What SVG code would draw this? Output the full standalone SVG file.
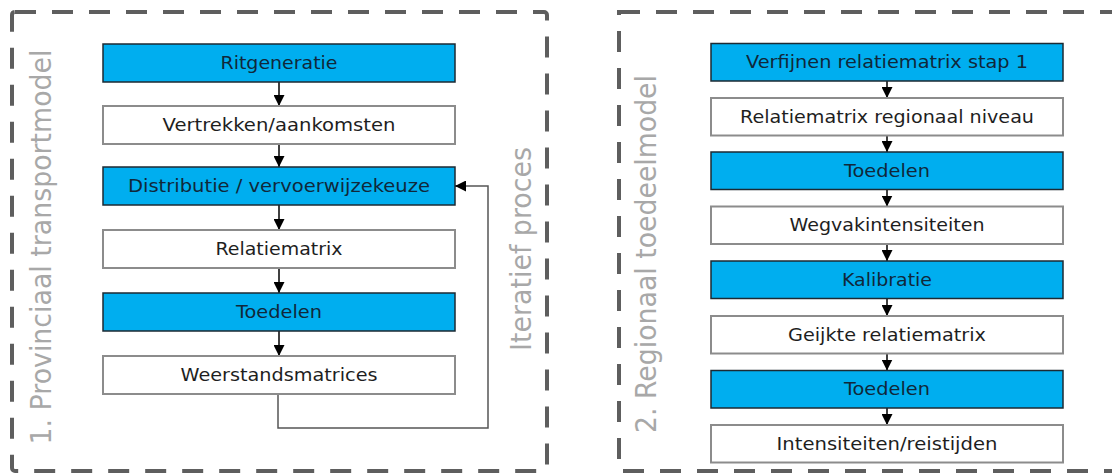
<svg xmlns="http://www.w3.org/2000/svg" width="1112" height="476" viewBox="0 0 1112 476">
<style>
.frame{fill:none;stroke:#5e5e5e;stroke-width:4;stroke-dasharray:21 16}
.blue{fill:#00aeef;stroke:#1c2a33;stroke-width:1.5}
.white{fill:#ffffff;stroke:#8c8c8c;stroke-width:2}
.t{font-family:"DejaVu Sans",Verdana,sans-serif;font-size:17px;text-anchor:middle}
.tb{fill:#10283a}
.tw{fill:#1e1e1e}
.side{font-family:"DejaVu Sans",Verdana,sans-serif;font-size:29px;fill:#a8a8a8;text-anchor:middle}
.conn{stroke:#000;stroke-width:1.5;fill:none}
.fb{stroke:#555;stroke-width:1.5;fill:none}
</style>
<defs>
<marker id="arr" markerUnits="userSpaceOnUse" markerWidth="11" markerHeight="11" refX="11" refY="5.5" orient="auto">
<path d="M0,0 L11,5.5 L0,11 z" fill="#000"/>
</marker>
</defs>
<rect width="1112" height="476" fill="#ffffff"/>
<g id="frame-provinciaal">
<rect class="frame" x="12" y="12" width="535" height="459" rx="3"/>
<text class="side" transform="translate(51,247) rotate(-90)" textLength="395" lengthAdjust="spacingAndGlyphs">1. Provinciaal transportmodel</text>
<text class="side" transform="translate(531,249) rotate(-90)" textLength="204" lengthAdjust="spacingAndGlyphs">Iteratief proces</text>
</g>
<g id="frame-regionaal">
<rect class="frame" x="619" y="12" width="560" height="459"/>
<text class="side" transform="translate(656,254) rotate(-90)" textLength="358" lengthAdjust="spacingAndGlyphs">2. Regionaal toedeelmodel</text>
</g>
<g id="connectors">
<line class="conn" x1="279" y1="82" x2="279" y2="106" marker-end="url(#arr)"/>
<line class="conn" x1="279" y1="144" x2="279" y2="167" marker-end="url(#arr)"/>
<line class="conn" x1="279" y1="205" x2="279" y2="230" marker-end="url(#arr)"/>
<line class="conn" x1="279" y1="268" x2="279" y2="293" marker-end="url(#arr)"/>
<line class="conn" x1="279" y1="331" x2="279" y2="356" marker-end="url(#arr)"/>
<path class="fb" d="M278,394 V428 H488 V186 H460"/>
<line class="conn" x1="462" y1="186" x2="455" y2="186" marker-end="url(#arr)"/>
<line class="conn" x1="887" y1="81" x2="887" y2="98" marker-end="url(#arr)"/>
<line class="conn" x1="887" y1="135.5" x2="887" y2="152" marker-end="url(#arr)"/>
<line class="conn" x1="887" y1="189.5" x2="887" y2="206.5" marker-end="url(#arr)"/>
<line class="conn" x1="887" y1="244" x2="887" y2="261" marker-end="url(#arr)"/>
<line class="conn" x1="887" y1="298.5" x2="887" y2="316" marker-end="url(#arr)"/>
<line class="conn" x1="887" y1="353.5" x2="887" y2="370.5" marker-end="url(#arr)"/>
<line class="conn" x1="887" y1="408" x2="887" y2="425" marker-end="url(#arr)"/>
</g>
<g id="n-ritgeneratie"><rect class="blue" x="103" y="44" width="352" height="38"/><text class="t tb" x="279" y="69" textLength="117" lengthAdjust="spacingAndGlyphs">Ritgeneratie</text></g>
<g id="n-vertrekken"><rect class="white" x="103" y="106" width="352" height="38"/><text class="t tw" x="279" y="131" textLength="233" lengthAdjust="spacingAndGlyphs">Vertrekken/aankomsten</text></g>
<g id="n-distributie"><rect class="blue" x="103" y="167" width="352" height="38"/><text class="t tb" x="279" y="192" textLength="302" lengthAdjust="spacingAndGlyphs">Distributie / vervoerwijzekeuze</text></g>
<g id="n-relatiematrix"><rect class="white" x="103" y="230" width="352" height="38"/><text class="t tw" x="279" y="255" textLength="127" lengthAdjust="spacingAndGlyphs">Relatiematrix</text></g>
<g id="n-toedelen-1"><rect class="blue" x="103" y="293" width="352" height="38"/><text class="t tb" x="279" y="318" textLength="86" lengthAdjust="spacingAndGlyphs">Toedelen</text></g>
<g id="n-weerstandsmatrices"><rect class="white" x="103" y="356" width="352" height="38"/><text class="t tw" x="279" y="381" textLength="197" lengthAdjust="spacingAndGlyphs">Weerstandsmatrices</text></g>
<g id="n-verfijnen"><rect class="blue" x="711" y="43.5" width="352" height="37.5"/><text class="t tb" x="887" y="68" textLength="282" lengthAdjust="spacingAndGlyphs">Verfijnen relatiematrix stap 1</text></g>
<g id="n-relatiematrix-regionaal"><rect class="white" x="711" y="98" width="352" height="37.5"/><text class="t tw" x="887" y="122.5" textLength="294" lengthAdjust="spacingAndGlyphs">Relatiematrix regionaal niveau</text></g>
<g id="n-toedelen-2"><rect class="blue" x="711" y="152" width="352" height="37.5"/><text class="t tb" x="887" y="176.5" textLength="86" lengthAdjust="spacingAndGlyphs">Toedelen</text></g>
<g id="n-wegvak"><rect class="white" x="711" y="206.5" width="352" height="37.5"/><text class="t tw" x="887" y="231" textLength="195" lengthAdjust="spacingAndGlyphs">Wegvakintensiteiten</text></g>
<g id="n-kalibratie"><rect class="blue" x="711" y="261" width="352" height="37.5"/><text class="t tb" x="887" y="285.5" textLength="90" lengthAdjust="spacingAndGlyphs">Kalibratie</text></g>
<g id="n-geijkte"><rect class="white" x="711" y="316" width="352" height="37.5"/><text class="t tw" x="887" y="340.5" textLength="198" lengthAdjust="spacingAndGlyphs">Geijkte relatiematrix</text></g>
<g id="n-toedelen-3"><rect class="blue" x="711" y="370.5" width="352" height="37.5"/><text class="t tb" x="887" y="395" textLength="86" lengthAdjust="spacingAndGlyphs">Toedelen</text></g>
<g id="n-intensiteiten"><rect class="white" x="711" y="425" width="352" height="37.5"/><text class="t tw" x="887" y="449.5" textLength="221" lengthAdjust="spacingAndGlyphs">Intensiteiten/reistijden</text></g>
</svg>
